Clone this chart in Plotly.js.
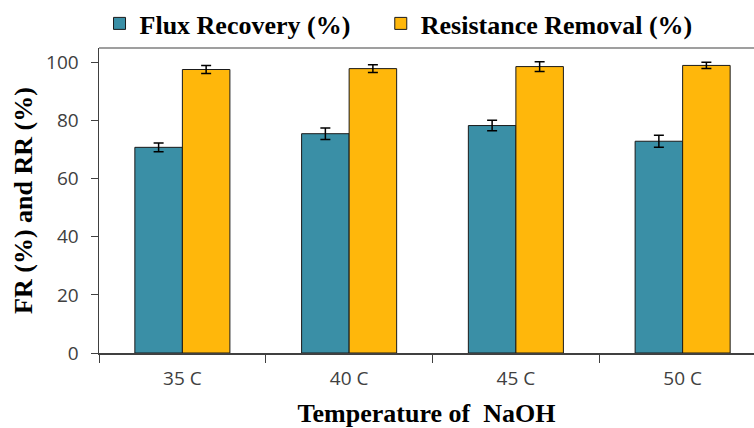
<!DOCTYPE html>
<html>
<head>
<meta charset="utf-8">
<script src="https://cdn.plot.ly/plotly-3.0.1.min.js"></script>
<style>html,body{margin:0;padding:0;background:#fff;}#chart{width:754px;height:428px;}</style>
</head>
<body>
<div id="chart"></div>
<script>
const categories = ["35 C", "40 C", "45 C", "50 C"];
const fluxRecovery = [70.8, 75.5, 78.3, 72.9];
const fluxRecoveryErr = [1.5, 2.0, 1.8, 2.1];
const resistanceRemoval = [97.6, 97.9, 98.6, 99.0];
const resistanceRemovalErr = [1.4, 1.3, 1.7, 1.1];
const yTicks = [0, 20, 40, 60, 80, 100];

const serif = "Liberation Serif, Times New Roman, serif";
const tickFamily = "Open Sans, Lato, sans-serif";
const traces = [
  {
    type: "bar", name: "Flux Recovery (%)", x: categories, y: fluxRecovery, legend: "legend",
    marker: {color: "#3A8FA6", line: {color: "#1a1a1a", width: 1}},
    error_y: {type: "data", array: fluxRecoveryErr, visible: true, color: "#000", thickness: 1.5, width: 5}
  },
  {
    type: "bar", name: "Resistance Removal (%)", x: categories, y: resistanceRemoval, legend: "legend2",
    marker: {color: "#FFB70B", line: {color: "#1a1a1a", width: 1}},
    error_y: {type: "data", array: resistanceRemovalErr, visible: true, color: "#000", thickness: 1.5, width: 5}
  }
];

const legendFont = {family: serif, size: 26, color: "#000", weight: "bold"};
const layout = {
  width: 754, height: 428,
  margin: {l: 99, r: 0, t: 48, b: 75, pad: 0, autoexpand: false},
  paper_bgcolor: "#fff", plot_bgcolor: "#fff",
  barmode: "group", bargap: 0.43, bargroupgap: 0,
  showlegend: true,
  legend: {
    orientation: "h", xref: "container", yref: "container",
    x: 0.132, y: 1.0, xanchor: "left", yanchor: "top",
    font: legendFont, itemwidth: 30, bgcolor: "rgba(0,0,0,0)"
  },
  legend2: {
    orientation: "h", xref: "container", yref: "container",
    x: 0.505, y: 1.0, xanchor: "left", yanchor: "top",
    font: legendFont, itemwidth: 30, bgcolor: "rgba(0,0,0,0)"
  },
  xaxis: {
    type: "category", range: [-0.5, 3.428],
    showline: true, linecolor: "#404040", linewidth: 1.5,
    ticks: "outside", tickson: "boundaries", ticklen: 8, tickcolor: "#404040", tickwidth: 1,
    ticklabelstandoff: 8,
    tickfont: {family: tickFamily, size: 19, color: "#404040"},
    showgrid: false, zeroline: false,
    title: {text: "Temperature of\u00a0 NaOH", font: {family: serif, size: 26, color: "#000", weight: "bold"}, standoff: 14}
  },
  yaxis: {
    range: [0, 105], tickvals: yTicks,
    showline: true, linecolor: "#404040", linewidth: 1.5,
    ticks: "outside", ticklen: 7, tickcolor: "#404040", tickwidth: 1,
    ticklabelstandoff: 8,
    tickfont: {family: tickFamily, size: 19, color: "#404040"},
    showgrid: false, zeroline: false,
    title: {text: "FR (%) and RR (%)", font: {family: serif, size: 26, color: "#000", weight: "bold"}, standoff: 6}
  },
  shapes: [
    {type: "line", xref: "paper", yref: "paper", x0: 0, x1: 1, y0: 1, y1: 1, line: {color: "#7f7f7f", width: 1.5}}
  ]
};

Plotly.newPlot("chart", traces, layout, {displayModeBar: false, staticPlot: true});
</script>
</body>
</html>
